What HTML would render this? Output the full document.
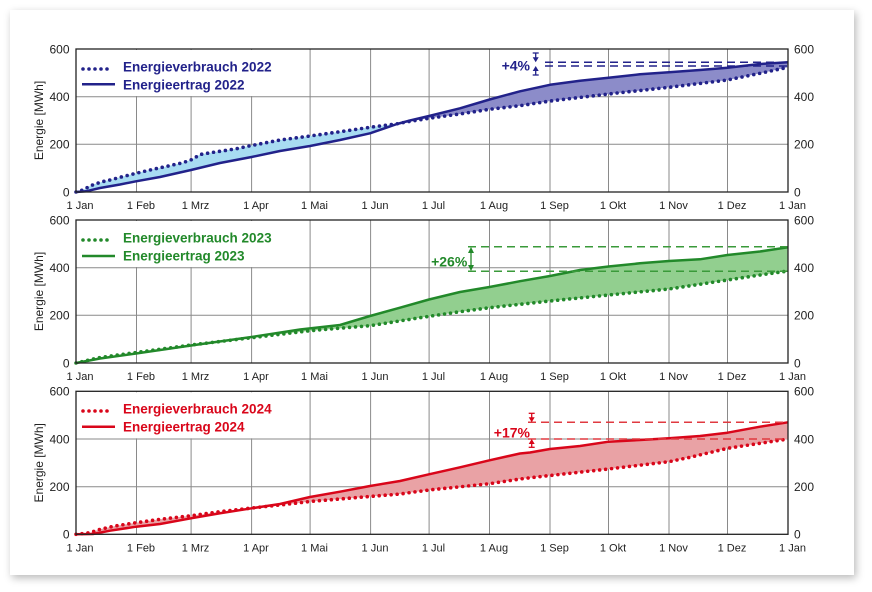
<!DOCTYPE html>
<html><head><meta charset="utf-8"><style>
html,body{margin:0;padding:0;background:#fff;}
body{width:872px;height:592px;position:relative;overflow:hidden;}
.card{position:absolute;left:10px;top:10px;width:844px;height:565px;background:#fff;box-shadow:2px 3px 8px rgba(0,0,0,0.28);}
svg{position:absolute;left:0;top:0;}
text{font-family:"Liberation Sans",sans-serif;}
.tk{font-size:12px;fill:#222;}
.tx{font-size:11px;fill:#222;text-anchor:middle;}
.lg{font-size:13.5px;font-weight:bold;}
.an{font-size:14px;font-weight:bold;text-anchor:end;}
.grid line{stroke:#8a8a8a;stroke-width:1;}
</style></head><body>
<div class="card"></div>
<svg width="872" height="592" viewBox="0 0 872 592" xmlns="http://www.w3.org/2000/svg">
<defs>
<clipPath id="cl"><rect x="70" y="40" width="327" height="160"/></clipPath>
<clipPath id="cr"><rect x="397" y="40" width="400" height="160"/></clipPath>
</defs>

<!-- ================= PANEL 1 ================= -->
<g class="grid">
<line x1="136.5" y1="49" x2="136.5" y2="192"/><line x1="191.1" y1="49" x2="191.1" y2="192"/><line x1="251.6" y1="49" x2="251.6" y2="192"/><line x1="310.1" y1="49" x2="310.1" y2="192"/><line x1="370.6" y1="49" x2="370.6" y2="192"/><line x1="429.1" y1="49" x2="429.1" y2="192"/><line x1="489.5" y1="49" x2="489.5" y2="192"/><line x1="550" y1="49" x2="550" y2="192"/><line x1="608.5" y1="49" x2="608.5" y2="192"/><line x1="669" y1="49" x2="669" y2="192"/><line x1="727.5" y1="49" x2="727.5" y2="192"/>
<line x1="76" y1="96.7" x2="788" y2="96.7"/><line x1="76" y1="144.3" x2="788" y2="144.3"/>
</g>
<rect x="77" y="50" width="205" height="46" fill="#fff"/>
<g clip-path="url(#cl)"><polygon fill="#a8dcf2" points="76,192 86,191.3 100,188 120,184.5 136,181.3 160,177 191,170 220,163 251.6,157 280,151 310,146 340,140 370,133.3 397,124 410,120.5 429,116 460,108.3 489.6,99.5 520,91.3 550,84.8 580,80.7 608.5,77.7 640,74.3 669,72.3 700,70 727.5,67.7 760,64 788,62.3 788,67.3 760,73.3 727.5,80 669,87.3 608.5,94 550,101 520,105.7 489.6,109.3 460,114 429,118.3 410,121.3 397,123.8 370,127.3 340,131.7 310,136 280,140 251.6,145.5 235,149 215,152 200,154.5 192,159.5 183,162.7 165,166.7 150,170 136,173.3 120,177.3 115,178.7 110,180 105,181 100,182.5 95,184 90,186 83,190 76,192"/></g>
<g clip-path="url(#cr)"><polygon fill="#8c8cc9" points="76,192 86,191.3 100,188 120,184.5 136,181.3 160,177 191,170 220,163 251.6,157 280,151 310,146 340,140 370,133.3 397,124 410,120.5 429,116 460,108.3 489.6,99.5 520,91.3 550,84.8 580,80.7 608.5,77.7 640,74.3 669,72.3 700,70 727.5,67.7 760,64 788,62.3 788,67.3 760,73.3 727.5,80 669,87.3 608.5,94 550,101 520,105.7 489.6,109.3 460,114 429,118.3 410,121.3 397,123.8 370,127.3 340,131.7 310,136 280,140 251.6,145.5 235,149 215,152 200,154.5 192,159.5 183,162.7 165,166.7 150,170 136,173.3 120,177.3 115,178.7 110,180 105,181 100,182.5 95,184 90,186 83,190 76,192"/></g>
<polyline fill="none" stroke="#22228a" stroke-width="2.5" stroke-linejoin="round" points="76,192 86,191.3 100,188 120,184.5 136,181.3 160,177 191,170 220,163 251.6,157 280,151 310,146 340,140 370,133.3 397,124 410,120.5 429,116 460,108.3 489.6,99.5 520,91.3 550,84.8 580,80.7 608.5,77.7 640,74.3 669,72.3 700,70 727.5,67.7 760,64 788,62.3"/>
<polyline fill="none" stroke="#22228a" stroke-width="3.6" stroke-linecap="round" stroke-dasharray="0 6" points="76,192 83,190 90,186 95,184 100,182.5 105,181 110,180 115,178.7 120,177.3 136,173.3 150,170 165,166.7 183,162.7 192,159.5 200,154.5 215,152 235,149 251.6,145.5 280,140 310,136 340,131.7 370,127.3 397,123.8 410,121.3 429,118.3 460,114 489.6,109.3 520,105.7 550,101 608.5,94 669,87.3 727.5,80 760,73.3 788,67.3"/>
<!-- annotation 2022 -->
<g stroke="#22228a" stroke-width="1.5" stroke-dasharray="8 5"><line x1="545" y1="62.3" x2="788" y2="62.3"/><line x1="545" y1="66" x2="788" y2="66"/></g>
<g stroke="#22228a" stroke-width="1.3" fill="#22228a">
<line x1="532.7" y1="53" x2="538.7" y2="53"/><line x1="535.7" y1="53" x2="535.7" y2="58"/>
<polygon stroke="none" points="532.7,57.3 538.7,57.3 535.7,62.3"/>
<line x1="532.7" y1="75" x2="538.7" y2="75"/><line x1="535.7" y1="70" x2="535.7" y2="75"/>
<polygon stroke="none" points="532.7,71 538.7,71 535.7,66"/>
</g>
<text class="an" x="530" y="70.5" fill="#22228a">+4%</text>
<!-- legend -->
<line x1="83" y1="69" x2="113" y2="69" stroke="#22228a" stroke-width="3.6" stroke-linecap="round" stroke-dasharray="0 6"/>
<line x1="82" y1="84.3" x2="115" y2="84.3" stroke="#22228a" stroke-width="2.5"/>
<text class="lg" x="123" y="71.5" fill="#22228a">Energieverbrauch 2022</text>
<text class="lg" x="123" y="89.5" fill="#22228a">Energieertrag 2022</text>
<rect x="76" y="49" width="712" height="143" fill="none" stroke="#222" stroke-width="1.3"/>
<g class="tk" text-anchor="end"><text x="69.5" y="53.3">600</text><text x="69.5" y="101">400</text><text x="69.5" y="148.6">200</text><text x="69.5" y="196.3">0</text></g>
<g class="tk"><text x="794" y="53.3">600</text><text x="794" y="101">400</text><text x="794" y="148.6">200</text><text x="794" y="196.3">0</text></g>
<g class="tx"><text x="80" y="209">1 Jan</text><text x="141" y="209">1 Feb</text><text x="195.5" y="209">1 Mrz</text><text x="256" y="209">1 Apr</text><text x="314.5" y="209">1 Mai</text><text x="375" y="209">1 Jun</text><text x="433.5" y="209">1 Jul</text><text x="494" y="209">1 Aug</text><text x="554.5" y="209">1 Sep</text><text x="613" y="209">1 Okt</text><text x="673.5" y="209">1 Nov</text><text x="732" y="209">1 Dez</text><text x="792.5" y="209">1 Jan</text></g>
<text class="tk" transform="translate(43,120.5) rotate(-90)" text-anchor="middle">Energie [MWh]</text>

<!-- ================= PANEL 2 ================= -->
<g class="grid">
<line x1="136.5" y1="220" x2="136.5" y2="363"/><line x1="191.1" y1="220" x2="191.1" y2="363"/><line x1="251.6" y1="220" x2="251.6" y2="363"/><line x1="310.1" y1="220" x2="310.1" y2="363"/><line x1="370.6" y1="220" x2="370.6" y2="363"/><line x1="429.1" y1="220" x2="429.1" y2="363"/><line x1="489.5" y1="220" x2="489.5" y2="363"/><line x1="550" y1="220" x2="550" y2="363"/><line x1="608.5" y1="220" x2="608.5" y2="363"/><line x1="669" y1="220" x2="669" y2="363"/><line x1="727.5" y1="220" x2="727.5" y2="363"/>
<line x1="76" y1="267.7" x2="788" y2="267.7"/><line x1="76" y1="315.3" x2="788" y2="315.3"/>
</g>
<rect x="77" y="221" width="205" height="46" fill="#fff"/>
<polygon fill="#92cf8f" points="76,363 100,358.5 136,353.5 191,345.5 251.6,337 300,329.5 340,325 370,316 400,307.7 429,299.5 460,292 489.5,287 520,281.2 550,276 580,270 608.5,266.5 640,263.3 669,261 700,259.3 727.5,255 760,251.5 788,247.3 788,271 760,275 727.5,280 669,289 608.5,295 550,301 489.5,307.7 460,311.7 429,316.3 370,325.7 310,330.7 251.6,337.7 191,345 136,352.5 100,357.5 76,363"/>
<polyline fill="none" stroke="#22892a" stroke-width="2.5" stroke-linejoin="round" points="76,363 100,358.5 136,353.5 191,345.5 251.6,337 300,329.5 340,325 370,316 400,307.7 429,299.5 460,292 489.5,287 520,281.2 550,276 580,270 608.5,266.5 640,263.3 669,261 700,259.3 727.5,255 760,251.5 788,247.3"/>
<polyline fill="none" stroke="#22892a" stroke-width="3.6" stroke-linecap="round" stroke-dasharray="0 6" points="76,363 100,357.5 136,352.5 191,345 251.6,337.7 310,330.7 370,325.7 429,316.3 460,311.7 489.5,307.7 550,301 608.5,295 669,289 727.5,280 760,275 788,271"/>
<g stroke="#3a9a3a" stroke-width="1.5" stroke-dasharray="8 5"><line x1="468" y1="246.8" x2="788" y2="246.8"/><line x1="468" y1="271.3" x2="788" y2="271.3"/></g>
<g fill="#22892a"><line x1="471" y1="251" x2="471" y2="267" stroke="#22892a" stroke-width="1.3"/>
<polygon points="468,253 474,253 471,247"/><polygon points="468,265 474,265 471,271"/></g>
<text class="an" x="467.3" y="266.5" fill="#22892a">+26%</text>
<line x1="83" y1="240" x2="113" y2="240" stroke="#22892a" stroke-width="3.6" stroke-linecap="round" stroke-dasharray="0 6"/>
<line x1="82" y1="256" x2="115" y2="256" stroke="#22892a" stroke-width="2.5"/>
<text class="lg" x="123" y="242.5" fill="#22892a">Energieverbrauch 2023</text>
<text class="lg" x="123" y="260.5" fill="#22892a">Energieertrag 2023</text>
<rect x="76" y="220" width="712" height="143" fill="none" stroke="#222" stroke-width="1.3"/>
<g class="tk" text-anchor="end"><text x="69.5" y="224.3">600</text><text x="69.5" y="272">400</text><text x="69.5" y="319.6">200</text><text x="69.5" y="367.3">0</text></g>
<g class="tk"><text x="794" y="224.3">600</text><text x="794" y="272">400</text><text x="794" y="319.6">200</text><text x="794" y="367.3">0</text></g>
<g class="tx"><text x="80" y="380">1 Jan</text><text x="141" y="380">1 Feb</text><text x="195.5" y="380">1 Mrz</text><text x="256" y="380">1 Apr</text><text x="314.5" y="380">1 Mai</text><text x="375" y="380">1 Jun</text><text x="433.5" y="380">1 Jul</text><text x="494" y="380">1 Aug</text><text x="554.5" y="380">1 Sep</text><text x="613" y="380">1 Okt</text><text x="673.5" y="380">1 Nov</text><text x="732" y="380">1 Dez</text><text x="792.5" y="380">1 Jan</text></g>
<text class="tk" transform="translate(43,291.5) rotate(-90)" text-anchor="middle">Energie [MWh]</text>

<!-- ================= PANEL 3 ================= -->
<g class="grid">
<line x1="136.5" y1="391.3" x2="136.5" y2="534.3"/><line x1="191.1" y1="391.3" x2="191.1" y2="534.3"/><line x1="251.6" y1="391.3" x2="251.6" y2="534.3"/><line x1="310.1" y1="391.3" x2="310.1" y2="534.3"/><line x1="370.6" y1="391.3" x2="370.6" y2="534.3"/><line x1="429.1" y1="391.3" x2="429.1" y2="534.3"/><line x1="489.5" y1="391.3" x2="489.5" y2="534.3"/><line x1="550" y1="391.3" x2="550" y2="534.3"/><line x1="608.5" y1="391.3" x2="608.5" y2="534.3"/><line x1="669" y1="391.3" x2="669" y2="534.3"/><line x1="727.5" y1="391.3" x2="727.5" y2="534.3"/>
<line x1="76" y1="439" x2="788" y2="439"/><line x1="76" y1="486.7" x2="788" y2="486.7"/>
</g>
<rect x="77" y="392.3" width="205" height="46" fill="#fff"/>
<polygon fill="#e9a2a5" points="76,534.3 93,534 110,530.7 136,526.7 160,524 191,518.3 220,513.3 251.6,508.3 280,504 310,497 340,491.7 370,486 400,481 429,474.3 460,467.3 489.5,460.3 520,453.5 530,452.5 550,449 580,446 608.5,441.7 640,440 669,438.3 700,436 727.5,432.7 760,426.7 788,422.3 788,439 760,443.3 727.5,448.3 690,457.3 669,461.7 608.5,469 550,475.5 520,479 489.5,483.7 429,490 400,494 370,496.5 340,499 310,501.5 280,505 251.6,508 220,511.7 191,515.7 160,519.3 136,522.7 115,526 100,529.3 90,532.7 76,534.3"/>
<polyline fill="none" stroke="#d9061a" stroke-width="2.5" stroke-linejoin="round" points="76,534.3 93,534 110,530.7 136,526.7 160,524 191,518.3 220,513.3 251.6,508.3 280,504 310,497 340,491.7 370,486 400,481 429,474.3 460,467.3 489.5,460.3 520,453.5 530,452.5 550,449 580,446 608.5,441.7 640,440 669,438.3 700,436 727.5,432.7 760,426.7 788,422.3"/>
<polyline fill="none" stroke="#d9061a" stroke-width="3.6" stroke-linecap="round" stroke-dasharray="0 6" points="76,534.3 90,532.7 100,529.3 115,526 136,522.7 160,519.3 191,515.7 220,511.7 251.6,508 280,505 310,501.5 340,499 370,496.5 400,494 429,490 489.5,483.7 520,479 550,475.5 608.5,469 669,461.7 690,457.3 727.5,448.3 760,443.3 788,439"/>
<g stroke="#e03a40" stroke-width="1.5" stroke-dasharray="8 5"><line x1="528" y1="422.2" x2="788" y2="422.2"/><line x1="528" y1="439" x2="788" y2="439"/></g>
<g stroke="#d9061a" stroke-width="1.3" fill="#d9061a">
<line x1="528.7" y1="413.3" x2="534.7" y2="413.3"/><line x1="531.7" y1="413.3" x2="531.7" y2="418"/>
<polygon stroke="none" points="528.7,417.3 534.7,417.3 531.7,422.2"/>
<line x1="528.7" y1="447.3" x2="534.7" y2="447.3"/><line x1="531.7" y1="443" x2="531.7" y2="447.3"/>
<polygon stroke="none" points="528.7,444 534.7,444 531.7,439"/>
</g>
<text class="an" x="530" y="437.5" fill="#d9061a">+17%</text>
<line x1="83" y1="411" x2="113" y2="411" stroke="#d9061a" stroke-width="3.6" stroke-linecap="round" stroke-dasharray="0 6"/>
<line x1="82" y1="426.7" x2="115" y2="426.7" stroke="#d9061a" stroke-width="2.5"/>
<text class="lg" x="123" y="413.5" fill="#d9061a">Energieverbrauch 2024</text>
<text class="lg" x="123" y="431.5" fill="#d9061a">Energieertrag 2024</text>
<rect x="76" y="391.3" width="712" height="143" fill="none" stroke="#222" stroke-width="1.3"/>
<g class="tk" text-anchor="end"><text x="69.5" y="395.6">600</text><text x="69.5" y="443.3">400</text><text x="69.5" y="491">200</text><text x="69.5" y="538.6">0</text></g>
<g class="tk"><text x="794" y="395.6">600</text><text x="794" y="443.3">400</text><text x="794" y="491">200</text><text x="794" y="538.6">0</text></g>
<g class="tx"><text x="80" y="551.3">1 Jan</text><text x="141" y="551.3">1 Feb</text><text x="195.5" y="551.3">1 Mrz</text><text x="256" y="551.3">1 Apr</text><text x="314.5" y="551.3">1 Mai</text><text x="375" y="551.3">1 Jun</text><text x="433.5" y="551.3">1 Jul</text><text x="494" y="551.3">1 Aug</text><text x="554.5" y="551.3">1 Sep</text><text x="613" y="551.3">1 Okt</text><text x="673.5" y="551.3">1 Nov</text><text x="732" y="551.3">1 Dez</text><text x="792.5" y="551.3">1 Jan</text></g>
<text class="tk" transform="translate(43,462.8) rotate(-90)" text-anchor="middle">Energie [MWh]</text>
</svg>
</body></html>
